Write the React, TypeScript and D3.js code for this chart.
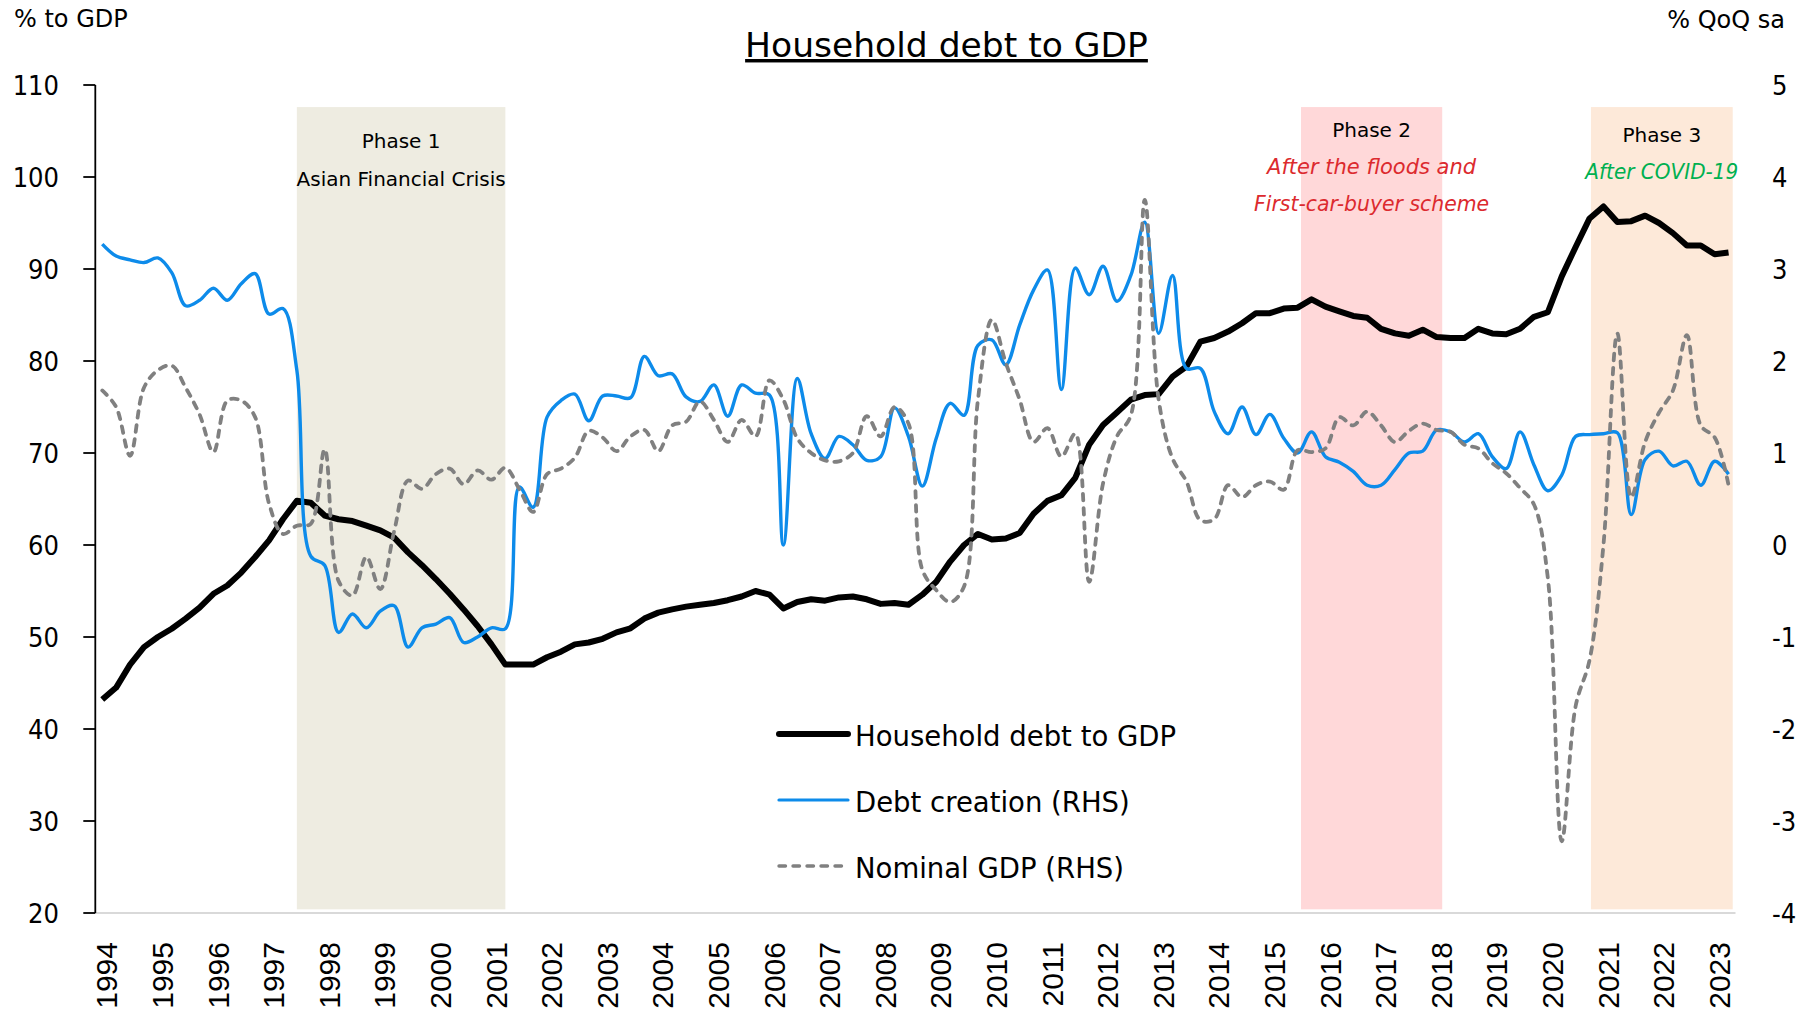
import React from "react";
import * as d3 from "d3";

// ---------- data ----------
const years = [1994,1995,1996,1997,1998,1999,2000,2001,2002,2003,2004,2005,2006,2007,2008,2009,2010,2011,2012,2013,2014,2015,2016,2017,2018,2019,2020,2021,2022,2023];
const quarterCount = 118; // 1994Q1 .. 2023Q2
const quarters = years.flatMap((y) => ["Q1", "Q2", "Q3", "Q4"].map((q) => `${y}${q}`)).slice(0, quarterCount);

// Household debt to GDP (% , LHS)
const householdDebt = [
  43.2, 44.5, 47.0, 48.9, 50.0, 50.9, 52.0, 53.2, 54.7, 55.6,
  57.0, 58.7, 60.5, 62.8, 64.8, 64.6, 63.2, 62.8, 62.6, 62.1,
  61.6, 60.8, 59.2, 57.8, 56.3, 54.7, 53.0, 51.2, 49.2, 47.0,
  47.0, 47.0, 47.8, 48.4, 49.2, 49.4, 49.8, 50.5, 50.95, 52.0,
  52.65, 53.0, 53.3, 53.5, 53.7, 54.0, 54.4, 55.0, 54.6, 53.1,
  53.8, 54.1, 53.95, 54.3, 54.4, 54.1, 53.6, 53.7, 53.5, 54.6,
  56.0, 58.2, 60.0, 61.2, 60.6, 60.7, 61.3, 63.4, 64.8, 65.4,
  67.3, 70.9, 73.05, 74.4, 75.8, 76.3, 76.4, 78.3, 79.4, 82.1,
  82.5, 83.2, 84.1, 85.2, 85.2, 85.7, 85.8, 86.7, 85.9, 85.4,
  84.9, 84.7, 83.5, 83.0, 82.75, 83.4, 82.6, 82.5, 82.5, 83.5,
  83.0, 82.9, 83.5, 84.8, 85.3, 89.2, 92.4, 95.5, 96.8, 95.1,
  95.2, 95.8, 95.0, 93.9, 92.55, 92.55, 91.6, 91.8,
];

// Debt creation (% QoQ sa, RHS)
const debtCreation = [
  3.27, 3.14, 3.10, 3.07, 3.12, 2.96, 2.60, 2.66, 2.79, 2.66,
  2.84, 2.95, 2.51, 2.57, 1.90, -0.12, -0.22, -0.95, -0.75, -0.90,
  -0.72, -0.66, -1.11, -0.90, -0.86, -0.79, -1.06, -1.00, -0.90, -0.91,
  0.63, 0.41, 1.39, 1.57, 1.64, 1.35, 1.62, 1.62, 1.60, 2.05,
  1.84, 1.86, 1.61, 1.56, 1.74, 1.40, 1.74, 1.65, 1.63, 0.00,
  1.81, 1.21, 0.94, 1.18, 1.09, 0.92, 0.96, 1.49, 1.18, 0.64,
  1.16, 1.54, 1.41, 2.17, 2.23, 1.96, 2.39, 2.77, 2.99, 1.69,
  3.01, 2.72, 3.03, 2.65, 2.93, 3.51, 2.30, 2.93, 1.92, 1.92,
  1.45, 1.21, 1.50, 1.20, 1.42, 1.16, 1.00, 1.23, 0.96, 0.90,
  0.80, 0.65, 0.65, 0.82, 1.00, 1.02, 1.25, 1.23, 1.12, 1.21,
  0.96, 0.83, 1.23, 0.87, 0.59, 0.76, 1.18, 1.20, 1.21, 1.22,
  0.33, 0.93, 1.02, 0.86, 0.91, 0.65, 0.91, 0.77,
];

// Nominal GDP (% QoQ sa, RHS)
const nominalGDP = [
  1.68, 1.50, 0.97, 1.71, 1.90, 1.95, 1.71, 1.42, 1.01, 1.57,
  1.57, 1.39, 0.45, 0.12, 0.21, 0.23, 1.04, -0.39, -0.55, -0.13,
  -0.48, 0.15, 0.70, 0.61, 0.77, 0.83, 0.66, 0.81, 0.71, 0.84,
  0.61, 0.36, 0.77, 0.83, 0.95, 1.24, 1.17, 1.02, 1.18, 1.25,
  1.02, 1.30, 1.34, 1.56, 1.36, 1.12, 1.36, 1.18, 1.79, 1.58,
  1.16, 1.00, 0.92, 0.91, 1.00, 1.40, 1.18, 1.50, 1.32, -0.27,
  -0.49, -0.62, -0.45, 1.58, 2.45, 1.98, 1.58, 1.12, 1.27, 0.96,
  1.21, -0.40, 0.67, 1.18, 1.41, 3.75, 1.58, 0.94, 0.69, 0.27,
  0.28, 0.65, 0.52, 0.65, 0.69, 0.60, 1.03, 1.01, 1.05, 1.39,
  1.30, 1.45, 1.30, 1.12, 1.24, 1.32, 1.25, 1.23, 1.09, 1.05,
  0.89, 0.78, 0.62, 0.44, -0.36, -3.22, -1.75, -1.25, 0.00, 2.30,
  0.52, 1.12, 1.44, 1.68, 2.28, 1.30, 1.17, 0.65,
];

const leftTicks = [20, 30, 40, 50, 60, 70, 80, 90, 100, 110];
const rightTicks = [-4, -3, -2, -1, 0, 1, 2, 3, 4, 5];

// Phases (quarter index positions)
const phaseNames = ["Phase 1", "Phase 2", "Phase 3"];
const phaseStart = [14, 86.24, 107.1];
const phaseEnd = [29, 96.4, 117.3];
const phaseSub1 = ["Asian Financial Crisis", "After the floods and", "After COVID-19"];
const phaseSub2 = ["", "First-car-buyer scheme", ""];

const legendLabels = ["Household debt to GDP", "Debt creation (RHS)", "Nominal GDP (RHS)"];

// ---------- styles ----------
const FONT = "'DejaVu Sans', Verdana, sans-serif";
const TICKFONT = "'DejaVu Sans Condensed', 'DejaVu Sans', sans-serif";
const XFONT = "'Liberation Sans', Arial, sans-serif";
const phaseFill = ["#EEECE1", "#FFD8D9", "#FDE9D9"];
const BLUE = "#0D8BEA";
const GREY = "#808080";
const DASH = "6.5 7.5";

export default function App() {
  const W = 1806;
  const H = 1016;
  const left = 95.3;
  const right = 1735.5;
  const top = 85;
  const bottom = 913;

  const x = d3.scaleLinear().domain([-0.5, quarters.length - 0.5]).range([left, right]);
  const yL = d3.scaleLinear().domain([20, 110]).range([bottom, top]);
  const yR = d3.scaleLinear().domain([-4, 5]).range([bottom, top]);

  const blackLine = d3
    .line<number>()
    .x((_, i) => x(i))
    .y((d) => yL(d))
    .curve(d3.curveLinear);
  const smoothR = d3
    .line<number>()
    .x((_, i) => x(i))
    .y((d) => yR(d))
    .curve(d3.curveCatmullRom.alpha(0.5));

  const shadeTop = yL(107.6);
  const shadeBot = yL(20.4);

  const phaseCenters = phaseStart.map((s, k) => (x(s) + x(phaseEnd[k])) / 2);
  const phaseTitleY = [148, 137, 142];
  const sub1Y = [186, 174, 179];
  const sub1Color = ["#000000", "#DC2A2E", "#00B050"];
  const sub1Italic = [false, true, true];

  const legendY = [734, 800, 866];

  return (
    <div style={{ position: "absolute", left: 0, top: 0, width: W, height: H, overflow: "hidden", background: "#fff" }}>
      <svg width={W} height={H} style={{ display: "block" }}>
        <rect x={0} y={0} width={W} height={H} fill="#fff" />

        {/* phase shading */}
        {phaseNames.map((p, k) => (
          <rect
            key={p}
            x={x(phaseStart[k])}
            y={shadeTop}
            width={x(phaseEnd[k]) - x(phaseStart[k])}
            height={shadeBot - shadeTop}
            fill={phaseFill[k]}
          />
        ))}

        {/* phase texts */}
        {phaseNames.map((p, k) => (
          <g key={"t" + p} fontFamily={FONT} textAnchor="middle">
            <text x={phaseCenters[k]} y={phaseTitleY[k]} fontSize={20} fill="#000">
              {p}
            </text>
            <text
              x={phaseCenters[k]}
              y={sub1Y[k]}
              fontSize={sub1Italic[k] ? 21 : 20}
              fontStyle={sub1Italic[k] ? "italic" : "normal"}
              fill={sub1Color[k]}
              {...(k === 2 ? { textLength: 153, lengthAdjust: "spacingAndGlyphs" } : {})}
            >
              {phaseSub1[k]}
            </text>
            {phaseSub2[k] && (
              <text x={phaseCenters[k]} y={211} fontSize={20.4} fontStyle="italic" fill={sub1Color[k]}>
                {phaseSub2[k]}
              </text>
            )}
          </g>
        ))}

        {/* x axis line */}
        <line x1={left} x2={right} y1={bottom} y2={bottom} stroke="#D9D9D9" strokeWidth={2.2} />

        {/* left axis */}
        <line x1={left} x2={left} y1={top} y2={bottom} stroke="#000" strokeWidth={1.8} />
        {leftTicks.map((t) => (
          <g key={"l" + t}>
            <line x1={left - 12} x2={left} y1={yL(t)} y2={yL(t)} stroke="#000" strokeWidth={1.8} />
            <text x={59} y={yL(t) + 10} textAnchor="end" fontFamily={TICKFONT} fontSize={27} fill="#000">
              {t}
            </text>
          </g>
        ))}

        {/* right axis labels */}
        {rightTicks.map((t) => (
          <text key={"r" + t} x={1772} y={yR(t) + 10} textAnchor="start" fontFamily={TICKFONT} fontSize={27} fill="#000">
            {t}
          </text>
        ))}

        {/* x labels */}
        {years.map((yr, k) => {
          const cx = x(k * 4) + 4.5 + 0.358 * 30;
          return (
            <text
              key={yr}
              transform={`translate(${cx},942) rotate(-90)`}
              textAnchor="end"
              fontFamily={XFONT}
              fontSize={30}
              fill="#000"
            >
              {yr}
            </text>
          );
        })}

        {/* series */}
        <path d={blackLine(householdDebt) || ""} fill="none" stroke="#000" strokeWidth={6} strokeLinejoin="round" />
        <path d={smoothR(debtCreation) || ""} fill="none" stroke={BLUE} strokeWidth={3.4} strokeLinejoin="round" />
        <path
          d={smoothR(nominalGDP) || ""}
          fill="none"
          stroke={GREY}
          strokeWidth={3.8}
          strokeDasharray={DASH}
          strokeLinecap="round"
        />

        {/* legend */}
        <g fontFamily={FONT} fontSize={27.5} fill="#000">
          <line x1={779} x2={848} y1={legendY[0]} y2={legendY[0]} stroke="#000" strokeWidth={6} strokeLinecap="round" />
          <line x1={779} x2={848} y1={legendY[1]} y2={legendY[1]} stroke={BLUE} strokeWidth={3.2} strokeLinecap="round" />
          <line
            x1={779}
            x2={849}
            y1={legendY[2]}
            y2={legendY[2]}
            stroke={GREY}
            strokeWidth={3.4}
            strokeDasharray={DASH}
            strokeLinecap="round"
          />
          {legendLabels.map((l, k) => (
            <text key={l} x={855} y={legendY[k] + 11.5}>
              {l}
            </text>
          ))}
        </g>

        {/* titles */}
        <text x={14} y={27} fontFamily={FONT} fontSize={24} fill="#000">
          % to GDP
        </text>
        <text x={1785} y={28} textAnchor="end" fontFamily={FONT} fontSize={24} fill="#000">
          % QoQ sa
        </text>
        <text
          x={946.5}
          y={57}
          textAnchor="middle"
          fontFamily={FONT}
          fontSize={34.5}
          fill="#000"
          style={{ textDecoration: "underline" }}
        >
          Household debt to GDP
        </text>
      </svg>
    </div>
  );
}
